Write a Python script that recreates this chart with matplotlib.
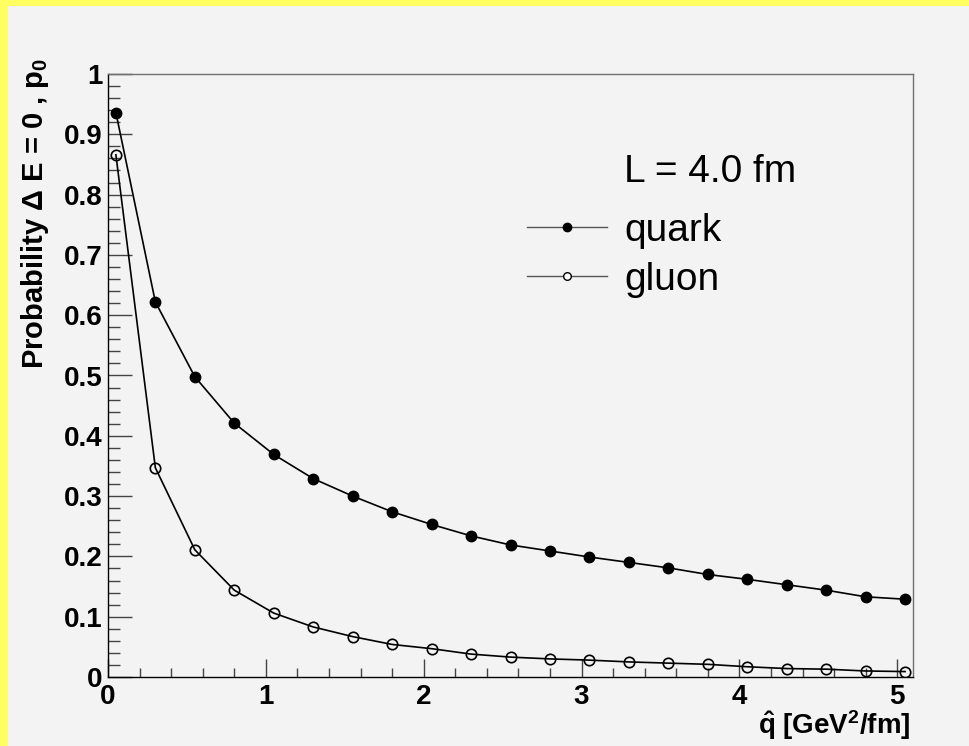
import matplotlib
matplotlib.use("Agg")
import matplotlib.pyplot as plt
from matplotlib.lines import Line2D
from matplotlib.patches import Rectangle
from matplotlib.ticker import MultipleLocator, FormatStrFormatter

# values
qhat = [0.05, 0.30, 0.55, 0.80, 1.05, 1.30, 1.55, 1.80, 2.05, 2.30, 2.55,
        2.80, 3.05, 3.30, 3.55, 3.80, 4.05, 4.30, 4.55, 4.80, 5.05]
p0_quark = [0.936, 0.622, 0.498, 0.421, 0.369, 0.329, 0.300, 0.274, 0.253,
            0.234, 0.219, 0.209, 0.199, 0.190, 0.181, 0.170, 0.162, 0.153,
            0.144, 0.133, 0.129]
p0_gluon = [0.866, 0.347, 0.211, 0.144, 0.106, 0.083, 0.067, 0.054, 0.047,
            0.038, 0.033, 0.030, 0.028, 0.025, 0.023, 0.021, 0.017, 0.014,
            0.013, 0.010, 0.009]

plt.rcParams['font.family'] = ['Liberation Sans', 'DejaVu Sans']
plt.rcParams['mathtext.fontset'] = 'custom'
plt.rcParams['mathtext.rm'] = 'Liberation Sans:bold'
plt.rcParams['mathtext.bf'] = 'Liberation Sans:bold'
plt.rcParams['mathtext.it'] = 'Liberation Sans:bold'

W, H = 969, 746
bg = '#f3f3f3'
fig = plt.figure(figsize=(W / 100, H / 100), dpi=100, facecolor=bg)

# yellow canvas border (left and top)
fig.patches.append(Rectangle((0, 0), 8 / W, 1, transform=fig.transFigure,
                             facecolor='#ffff5f', edgecolor='none', zorder=0))
fig.patches.append(Rectangle((0, 1 - 6 / H), 1, 6 / H, transform=fig.transFigure,
                             facecolor='#ffff5f', edgecolor='none', zorder=0))

left, right, bottom, top = 108, 913, 677, 74
ax = fig.add_axes([left / W, 1 - bottom / H, (right - left) / W, (bottom - top) / H])
ax.set_facecolor(bg)

ax.plot(qhat, p0_quark, color='black', lw=1.2, marker='o', ms=7.5,
        mfc='black', mec='black', zorder=3)
ax.plot(qhat, p0_gluon, color='black', lw=1.2, marker='o', ms=7.5,
        mfc='none', mec='black', mew=1.2, zorder=3)

ax.set_xlim(0, 5.1)
ax.set_ylim(0, 1)

for s in ['top', 'right']:
    ax.spines[s].set_color('#707070')
for s in ['left', 'bottom']:
    ax.spines[s].set_color('black')
for s in ax.spines.values():
    s.set_linewidth(1.0)

ax.xaxis.set_major_locator(MultipleLocator(1))
ax.xaxis.set_minor_locator(MultipleLocator(0.2))
ax.yaxis.set_major_locator(MultipleLocator(0.1))
ax.yaxis.set_minor_locator(MultipleLocator(0.02))
ax.yaxis.set_major_formatter(FormatStrFormatter('%g'))
ax.xaxis.set_major_formatter(FormatStrFormatter('%g'))

ax.tick_params(axis='both', which='both', direction='in', top=False, right=False,
               width=1.0, color='#444444')
ax.tick_params(axis='y', which='major', length=17, pad=4)
ax.tick_params(axis='y', which='minor', length=8.5)
ax.tick_params(axis='x', which='major', length=13, pad=5)
ax.tick_params(axis='x', which='minor', length=6.5)
for lab in ax.get_xticklabels() + ax.get_yticklabels():
    lab.set_fontsize(20)
    lab.set_fontweight('bold')

# axis titles, ROOT style (aligned to the axis ends)
fig.text(35 / W, 1 - 58 / H, r'Probability $\Delta$ E = 0 , p$_{0}$',
         rotation=90, ha='center', va='top', fontsize=21, fontweight='bold')
fig.text(911 / W, 1 - 742 / H, r'$\hat{q}$ [GeV$^{2}$/fm]',
         ha='right', va='bottom', fontsize=20, fontweight='bold')

# legend
ax.text((624 - left) / (right - left), (bottom - 172) / (bottom - top),
        'L = 4.0 fm', transform=ax.transAxes, fontsize=28,
        ha='left', va='center')
handles = [Line2D([], [], color='#555555', lw=1, marker='o', ms=6,
                  mfc='black', mec='black'),
           Line2D([], [], color='#555555', lw=1, marker='o', ms=5.5,
                  mfc='white', mec='black', mew=1)]
ax.legend(handles, ['quark', 'gluon'], loc='upper left',
          bbox_to_anchor=((527 - left) / (right - left), (bottom - 213) / (bottom - top)),
          frameon=False, fontsize=28, handlelength=2.05, handletextpad=0.45,
          labelspacing=0.33, borderpad=0, borderaxespad=0)

fig.savefig('out.png', dpi=100, facecolor=bg)
